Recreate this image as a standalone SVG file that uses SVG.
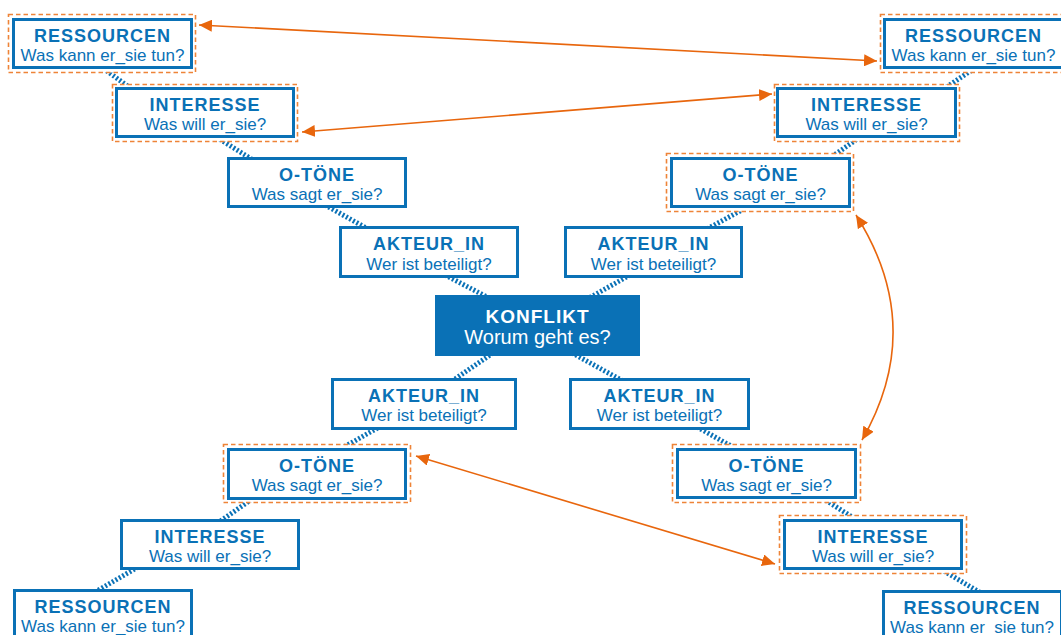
<svg xmlns="http://www.w3.org/2000/svg" width="1061" height="635" viewBox="0 0 1061 635">
<defs>
<style>
.box{fill:#fff;stroke:#0a71b6;stroke-width:3}
.kbox{fill:#0a71b6;stroke:none}
.hl{fill:#fff;stroke:#ee8438;stroke-width:1.6;stroke-dasharray:4.5 3}
.t{font-family:"Liberation Sans",Arial,sans-serif;font-size:18px;font-weight:bold;letter-spacing:1px;fill:#0a71b6;text-anchor:middle}
.s{font-family:"Liberation Sans",Arial,sans-serif;font-size:17px;fill:#0a71b6;text-anchor:middle}
.kt{font-family:"Liberation Sans",Arial,sans-serif;font-size:19px;font-weight:bold;letter-spacing:1px;fill:#fff;text-anchor:middle}
.ks{font-family:"Liberation Sans",Arial,sans-serif;font-size:20px;fill:#fff;text-anchor:middle}
.con{stroke:#0a71b6;stroke-width:5;stroke-dasharray:2 2;fill:none}
.arr{stroke:#e8660d;stroke-width:1.6;fill:none;marker-start:url(#ah);marker-end:url(#ah)}
</style>
<marker id="ah" markerUnits="userSpaceOnUse" markerWidth="14" markerHeight="12" refX="13" refY="6" orient="auto-start-reverse">
<path d="M0,0 L13,6 L0,12 z" fill="#e8660d"/>
</marker>
</defs>
<rect width="1061" height="635" fill="#fff"/>
<g id="connectors">
<line class="con" x1="100" y1="66" x2="133" y2="90"/>
<line class="con" x1="213" y1="135" x2="253" y2="160"/>
<line class="con" x1="325" y1="205" x2="368" y2="229"/>
<line class="con" x1="445" y1="275" x2="489" y2="298"/>
<line class="con" x1="630" y1="275" x2="589" y2="298"/>
<line class="con" x1="751" y1="205" x2="707" y2="229"/>
<line class="con" x1="863" y1="135" x2="827" y2="160"/>
<line class="con" x1="978" y1="66" x2="942" y2="90"/>
<line class="con" x1="493" y1="353" x2="452" y2="381"/>
<line class="con" x1="572" y1="353" x2="623" y2="381"/>
<line class="con" x1="381" y1="426" x2="337" y2="451"/>
<line class="con" x1="255" y1="497" x2="219" y2="522"/>
<line class="con" x1="138" y1="567" x2="95" y2="592"/>
<line class="con" x1="697" y1="427" x2="740" y2="451"/>
<line class="con" x1="819" y1="496" x2="860" y2="522"/>
<line class="con" x1="937" y1="567" x2="981" y2="593"/>
</g>
<g id="tl-res">
<rect class="hl" x="8.5" y="14.5" width="187" height="58"/>
<rect class="box" x="13.5" y="19.5" width="178" height="48"/>
<text class="t" x="102.5" y="42">RESSOURCEN</text>
<text class="s" x="102.5" y="61">Was kann er_sie tun?</text>
</g>
<g id="tl-int">
<rect class="hl" x="112.5" y="84.5" width="185" height="57"/>
<rect class="box" x="116.5" y="88.5" width="177" height="48"/>
<text class="t" x="205" y="111">INTERESSE</text>
<text class="s" x="205" y="130">Was will er_sie?</text>
</g>
<g id="tl-ot">
<rect class="box" x="228.5" y="158.5" width="177" height="48"/>
<text class="t" x="317" y="181">O-TÖNE</text>
<text class="s" x="317" y="200">Was sagt er_sie?</text>
</g>
<g id="tl-ak">
<rect class="box" x="340.5" y="227.5" width="177" height="49"/>
<text class="t" x="429" y="250">AKTEUR_IN</text>
<text class="s" x="429" y="270">Wer ist beteiligt?</text>
</g>
<g id="tr-ak">
<rect class="box" x="565.5" y="227.5" width="176" height="49"/>
<text class="t" x="653.5" y="250">AKTEUR_IN</text>
<text class="s" x="653.5" y="270">Wer ist beteiligt?</text>
</g>
<g id="tr-ot">
<rect class="hl" x="666.5" y="153.5" width="187" height="58"/>
<rect class="box" x="671.5" y="158.5" width="178" height="48"/>
<text class="t" x="760.5" y="181">O-TÖNE</text>
<text class="s" x="760.5" y="200">Was sagt er_sie?</text>
</g>
<g id="tr-int">
<rect class="hl" x="774.5" y="84.5" width="185" height="57"/>
<rect class="box" x="777.5" y="88.5" width="178" height="48"/>
<text class="t" x="866.5" y="111">INTERESSE</text>
<text class="s" x="866.5" y="130">Was will er_sie?</text>
</g>
<g id="tr-res">
<rect class="hl" x="880.5" y="14.5" width="187" height="58"/>
<rect class="box" x="884.5" y="19.5" width="178" height="48"/>
<text class="t" x="973.5" y="42">RESSOURCEN</text>
<text class="s" x="973.5" y="61">Was kann er_sie tun?</text>
</g>
<g id="konflikt">
<rect class="kbox" x="435" y="295" width="205" height="61"/>
<text class="kt" x="537.5" y="323">KONFLIKT</text>
<text class="ks" x="537.5" y="344">Worum geht es?</text>
</g>
<g id="bl-ak">
<rect class="box" x="332.5" y="379.5" width="183" height="49"/>
<text class="t" x="424" y="402">AKTEUR_IN</text>
<text class="s" x="424" y="421">Wer ist beteiligt?</text>
</g>
<g id="br-ak">
<rect class="box" x="570.5" y="379.5" width="178" height="49"/>
<text class="t" x="659.5" y="402">AKTEUR_IN</text>
<text class="s" x="659.5" y="421">Wer ist beteiligt?</text>
</g>
<g id="bl-ot">
<rect class="hl" x="223.5" y="444.5" width="187" height="58"/>
<rect class="box" x="228.5" y="449.5" width="177" height="49"/>
<text class="t" x="317" y="472">O-TÖNE</text>
<text class="s" x="317" y="491">Was sagt er_sie?</text>
</g>
<g id="bl-int">
<rect class="box" x="121.5" y="520.5" width="177" height="48"/>
<text class="t" x="210" y="543">INTERESSE</text>
<text class="s" x="210" y="562">Was will er_sie?</text>
</g>
<g id="bl-res">
<rect class="box" x="14.5" y="590.5" width="177" height="60"/>
<text class="t" x="103" y="613">RESSOURCEN</text>
<text class="s" x="103" y="632">Was kann er_sie tun?</text>
</g>
<g id="br-ot">
<rect class="hl" x="672.5" y="444.5" width="188" height="58"/>
<rect class="box" x="677.5" y="449.5" width="178" height="48"/>
<text class="t" x="766.5" y="472">O-TÖNE</text>
<text class="s" x="766.5" y="491">Was sagt er_sie?</text>
</g>
<g id="br-int">
<rect class="hl" x="779.5" y="515.5" width="187" height="58"/>
<rect class="box" x="784.5" y="520.5" width="177" height="48"/>
<text class="t" x="873" y="543">INTERESSE</text>
<text class="s" x="873" y="562">Was will er_sie?</text>
</g>
<g id="br-res">
<rect class="box" x="883.5" y="591.5" width="178" height="60"/>
<text class="t" x="972" y="614">RESSOURCEN</text>
<text class="s" x="972" y="633">Was kann er_sie tun?</text>
</g>
<g id="relations">
<line class="arr" x1="199" y1="25" x2="877" y2="61"/>
<line class="arr" x1="302" y1="132" x2="772" y2="94"/>
<path class="arr" d="M856,215 Q927,327 862,440"/>
<line class="arr" x1="416" y1="456" x2="775" y2="564"/>
</g>
</svg>
